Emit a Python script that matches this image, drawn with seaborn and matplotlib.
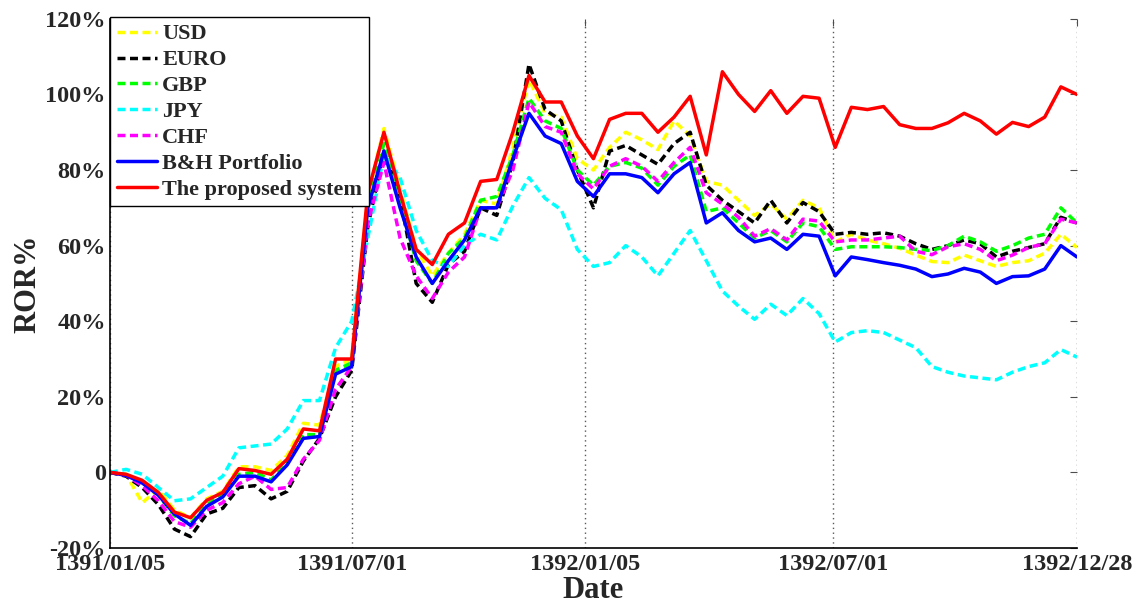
import numpy as np
import pandas as pd
import seaborn as sns
import matplotlib.pyplot as plt
from matplotlib.lines import Line2D

# trading-day index (sampled every 8 days) and date ticks
days = np.arange(0, 481, 8)
tick_days = [0, 120, 236, 359, 480]
tick_labels = ['1391/01/05', '1391/07/01', '1392/01/05', '1392/07/01', '1392/12/28']

usd = [0, -0.5, -8, -4.5, -10, -12, -7, -5, 1.5, 1.5,
       0.5, 4.5, 13, 12.5, 28, 30, 73, 91, 75, 59,
       52, 58, 63, 72, 71, 86, 104, 95, 94, 83,
       80, 86, 90, 88, 85.4, 93, 89, 77, 76, 72,
       68, 71, 67, 72, 70, 61, 63, 61.5, 60.5, 59.3,
       57.5, 55.8, 55.5, 57.5, 56, 54.5, 55.5, 56, 58, 63,
       59.5]
euro = [0, -1, -4, -8.5, -15, -17, -11, -9.5, -4, -3.5,
        -7, -5, 3, 9, 20, 27, 65, 85, 73, 50,
        45, 55, 58.5, 70, 68, 82, 108, 96, 93, 80,
        70, 85, 86.5, 84, 81.5, 87, 90, 76, 72, 69,
        66, 72, 66, 71.4, 69, 63, 63.5, 63, 63.4, 62.5,
        60.5, 59, 60, 61.5, 60.5, 57, 58.5, 59.5, 60.5, 67.5,
        66]
gbp = [0, -0.6, -2.5, -6, -11.5, -13.5, -8.5, -6, -0.5, 0,
       -2, 2.5, 10, 10, 27, 29, 72, 87, 71, 56,
       50, 58, 62, 72, 73, 84, 99, 93, 91, 80,
       76, 81, 82, 80.5, 76, 81, 84, 69, 70, 66,
       62, 64, 61, 66, 65, 59, 59.7, 59.7, 59.7, 59.5,
       59, 58.7, 60, 62.5, 61, 58.5, 60, 62, 63, 70,
       66]
jpy = [0, 0.8, -0.5, -4, -7.5, -7, -4, -1, 6.5, 7,
       7.5, 11.5, 19, 19, 33, 40, 62, 84, 78, 64,
       56, 54.5, 60, 63, 61.5, 70.5, 78, 72.5, 69.5, 59,
       54.5, 55.5, 60, 57, 52, 58, 64, 56, 48, 44,
       40.5, 44.5, 41.5, 46, 42, 34.5, 37, 37.5, 37, 35,
       33, 28, 26.5, 25.5, 25, 24.5, 26.5, 28, 29, 32.5,
       30.5]
chf = [0, -0.8, -3.5, -7.5, -13, -14.5, -10, -8, -3, -1,
       -4.5, -4, 3.5, 8.5, 22, 28, 66, 82, 62, 52,
       46, 53, 57, 70, 70, 80, 98, 91.5, 90, 79,
       75, 81, 83, 81, 77, 82, 86, 74, 71, 67.5,
       62.5, 64.5, 61.5, 67, 66.5, 61, 61.5, 61.5, 62, 62.5,
       58.5, 57.6, 59.7, 60.5, 59, 56, 57.5, 59.5, 60.5, 67,
       66]
bh = [0, -0.8, -2.8, -6, -11, -14, -9, -6.5, -1, -1,
      -2.5, 2, 9, 9.5, 26, 28, 70, 85, 70, 57,
      50, 56, 61.5, 70, 70, 83, 95, 89, 87, 77,
      73, 79, 79, 78, 74, 79, 82, 66, 68.7, 64,
      61, 62, 59, 63, 62.5, 52, 57, 56.3, 55.5, 54.8,
      53.8, 51.8, 52.5, 54, 53, 50, 51.8, 52, 53.8, 60,
      57]
proposed = [0, -0.5, -2.1, -5.3, -10.5, -12, -7.4, -5.3, 1.0, 0.5,
            -0.5, 3.5, 11.5, 11, 30, 30, 74, 90, 74, 59,
            55, 63, 66, 77, 77.5, 90, 105, 98, 98, 89,
            83, 93.4, 95, 95, 90, 94, 99.5, 84, 106, 100,
            95.5, 101, 95, 99.5, 99, 86, 96.6, 96, 96.8, 92,
            91, 91, 92.5, 95, 93, 89.5, 92.6, 91.5, 94, 102,
            100]

names = ['USD', 'EURO', 'GBP', 'JPY', 'CHF', 'B&H Portfolio', 'The proposed system']
colors = ['#ffff00', '#000000', '#00ff00', '#00ffff', '#ff00ff', '#0000ff', '#ff0000']

df = pd.DataFrame({'day': days, 'USD': usd, 'EURO': euro, 'GBP': gbp, 'JPY': jpy,
                   'CHF': chf, 'B&H Portfolio': bh, 'The proposed system': proposed})
long = df.melt(id_vars='day', var_name='series', value_name='ror')

sns.set_style('white')
plt.rcParams['font.family'] = ['Liberation Serif', 'DejaVu Serif']
plt.rcParams['font.weight'] = 'bold'

fig = plt.figure(figsize=(11.37, 6.08), dpi=100)
ax = fig.add_axes([0.0967, 0.0987, 0.8505, 0.8703])

dash = (2.3, 1.3)
dashes = {n: (dash if i < 5 else '') for i, n in enumerate(names)}
sns.lineplot(data=long, x='day', y='ror', hue='series', style='series',
             hue_order=names, style_order=names, palette=dict(zip(names, colors)),
             dashes=dashes, linewidth=2.5, ax=ax, legend=False)

ax.set_xlim(0, 480)
ax.set_ylim(-20, 120)
ax.set_xticks(tick_days)
ax.set_xticklabels(tick_labels)
yt = [-20, 0, 20, 40, 60, 80, 100, 120]
ax.set_yticks(yt)
ax.set_yticklabels(['0' if v == 0 else f'{v}%' for v in yt])
ax.tick_params(direction='in', top=True, right=True, length=5, labelsize=17.5,
               color='0.3', pad=3)
ax.tick_params(axis='x', pad=4)
ax.xaxis.grid(True, linestyle=(0, (1, 2.5)), color='0.35', linewidth=1)
ax.yaxis.grid(False)
for s in ['top', 'right']:
    ax.spines[s].set_visible(False)
for s in ['left', 'bottom']:
    ax.spines[s].set_color('black')
    ax.spines[s].set_linewidth(1.2)

ax.set_xlabel('Date', fontsize=22, fontweight='bold', labelpad=1)
ax.set_ylabel('ROR%', fontsize=22, fontweight='bold', labelpad=2)

handles = []
for i, c in enumerate(colors):
    h = Line2D([], [], color=c, linewidth=2.5)
    if i < 5:
        h.set_dashes(dash)
    handles.append(h)
leg = ax.legend(handles, names, loc='upper left', bbox_to_anchor=(0, 1.003),
                borderaxespad=0, fancybox=False, framealpha=1, edgecolor='black',
                fontsize=16, handlelength=1.8, handletextpad=0.25,
                labelspacing=0.24, borderpad=0.3)
leg.get_frame().set_linewidth(1.0)

fig.savefig('out.png', dpi=100)
